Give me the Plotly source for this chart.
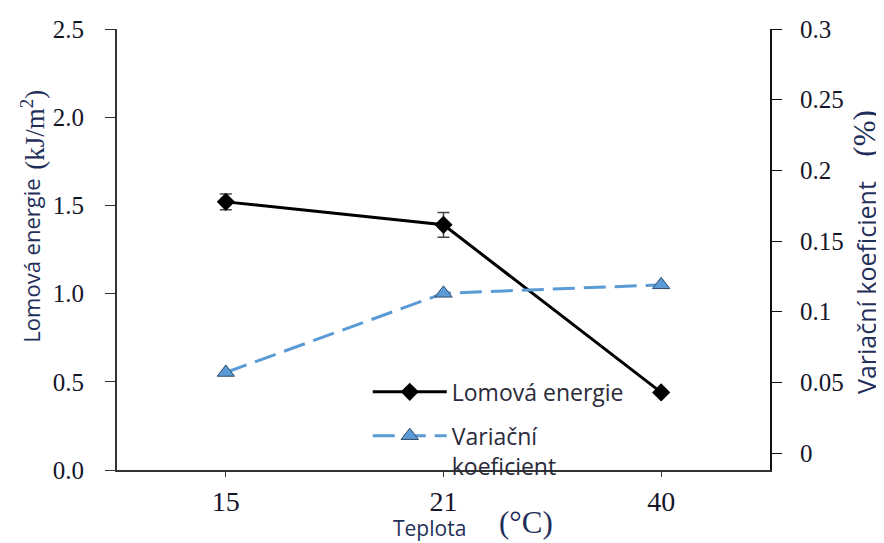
import plotly.graph_objects as go

temps = ["15", "21", "40"]
lomova = [1.52, 1.39, 0.44]
lomova_err = [0.045, 0.07, 0.0]
variacni = [0.057, 0.113, 0.119]

left_ticks = [0.0, 0.5, 1.0, 1.5, 2.0, 2.5]
left_ticktext = ["0.0", "0.5", "1.0", "1.5", "2.0", "2.5"]
right_ticks = [0, 0.05, 0.1, 0.15, 0.2, 0.25, 0.3]
right_ticktext = ["0", "0.05", "0.1", "0.15", "0.2", "0.25", "0.3"]

SERIF = "Liberation Serif"
SANS = "Open Sans"
TITLE_COLOR = "#1f2f5a"
TICK_COLOR = "#15152a"

fig = go.Figure()
fig.add_trace(go.Scatter(
    x=temps, y=lomova, name="Lomová energie", mode="lines+markers",
    legendgroup="a",
    line=dict(color="black", width=3),
    marker=dict(symbol="diamond", size=14, color="black"),
    error_y=dict(type="data", array=lomova_err, visible=True, color="#444444", thickness=1.5, width=6),
    yaxis="y",
))
fig.add_trace(go.Scatter(
    x=temps, y=variacni, name="Variační<br>koeficient", mode="lines+markers",
    legendgroup="b",
    line=dict(color="#5b9bd5", width=3, dash="22px,9px"),
    marker=dict(symbol="triangle-up", size=15, color="#5b9bd5", line=dict(color="#2e4a6a", width=1)),
    yaxis="y2",
))

def title_ann(text, x, y, family, size, angle=0):
    fig.add_annotation(text=text, xref="paper", yref="paper", x=x, y=y,
                       xanchor="center", yanchor="middle", textangle=angle,
                       showarrow=False, font=dict(family=family, size=size, color=TITLE_COLOR))

title_ann("Lomová energie", -0.133, 0.475, SANS, 22, -90)
title_ann("(kJ/m<sup>2</sup>)", -0.130, 0.772, SERIF, 27, -90)
title_ann("Variační koeficient", 1.147, 0.415, SANS, 25, -90)
title_ann("(%)", 1.145, 0.762, SERIF, 31, -90)
title_ann("Teplota", 0.478, -0.132, SANS, 21)
title_ann("(°C)", 0.626, -0.12, SERIF, 31)

fig.update_layout(
    width=884, height=543,
    margin=dict(l=109, r=122, t=21, b=81),
    plot_bgcolor="white", paper_bgcolor="white",
    showlegend=True,
    legend=dict(x=0.384, y=0.226, xanchor="left", yanchor="top", valign="top",
                traceorder="grouped",
                bgcolor="rgba(0,0,0,0)", font=dict(family=SANS, size=23, color="#2a2a3a"),
                tracegroupgap=11, itemwidth=74),
    xaxis=dict(
        type="category", range=[-0.5, 2.5], automargin=False,
        showline=True, linecolor="#333333", linewidth=1.5,
        ticks="outside", ticklen=5, tickcolor="#333333",
        tickfont=dict(family=SERIF, size=28, color=TICK_COLOR),
        ticklabelstandoff=1,
        showgrid=False, zeroline=False,
    ),
    yaxis=dict(
        range=[0, 2.5], tickvals=left_ticks, ticktext=left_ticktext, automargin=False,
        showline=True, linecolor="#333333", linewidth=2,
        ticks="outside", ticklen=10, tickcolor="#333333",
        tickfont=dict(family=SERIF, size=25, color=TICK_COLOR),
        ticklabelstandoff=16,
        showgrid=False, zeroline=False,
    ),
    yaxis2=dict(
        overlaying="y", side="right", automargin=False,
        range=[-0.012, 0.3], tickvals=right_ticks, ticktext=right_ticktext,
        showline=True, linecolor="#111111", linewidth=2,
        ticks="outside", ticklen=10, tickcolor="#111111",
        tickfont=dict(family=SERIF, size=25, color=TICK_COLOR),
        ticklabelstandoff=13,
        showgrid=False, zeroline=False,
    ),
)

fig.write_html("out.html")
